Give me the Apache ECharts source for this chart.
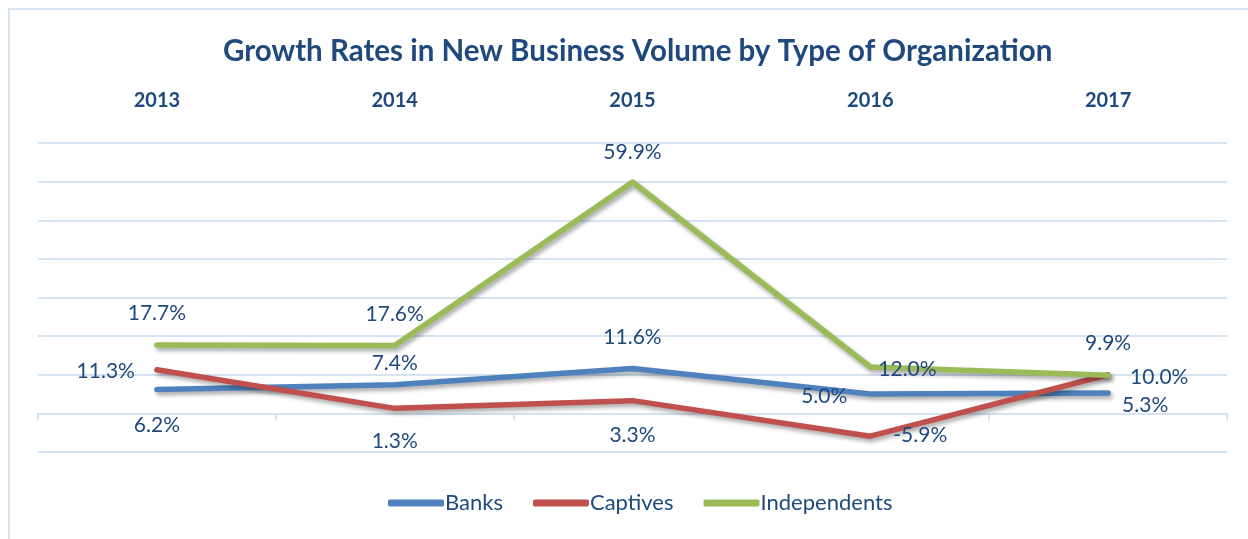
<!DOCTYPE html>
<html>
<head>
<meta charset="utf-8">
<script src="https://cdn.jsdelivr.net/npm/echarts@6/dist/echarts.min.js"></script>
<style>
  html, body { margin: 0; padding: 0; background: #fff; }
  #chart { width: 1248px; height: 539px; }
</style>
</head>
<body>
<div id="chart"></div>
<script>
const years = ['2013', '2014', '2015', '2016', '2017'];
const banks = [6.2, 7.4, 11.6, 5.0, 5.3];
const captives = [11.3, 1.3, 3.3, -5.9, 10.0];
const independents = [17.7, 17.6, 59.9, 12.0, 9.9];

// label placement per point (style only)
const banksPos = [['bottom', [0, 20]], ['top', [0, -6]], ['top', [0, -16]], ['left', [-18, 2]], ['right', [9, 12]]];
const captivesPos = [['left', [-17, 2]], ['bottom', [0, 17]], ['bottom', [0, 19]], ['right', [18, -1]], ['right', [17, 2]]];
const independentsPos = [['top', [0, -16]], ['top', [0, -16]], ['top', [0, -14]], ['right', [3, 2]], ['top', [0, -16]]];

const navy = '#1F497D';
const font = 'Lato, "Open Sans", sans-serif';

function build(values, pos) {
    return values.map((v, i) => ({
        value: v,
        label: { position: pos[i][0], offset: pos[i][1] }
    }));
}

function line(name, values, pos, color) {
    return {
        type: 'line',
        name: name,
        data: build(values, pos),
        symbol: 'circle',
        symbolSize: 0,
        showSymbol: true,
        lineStyle: {
            color: color,
            width: 5.5,
            cap: 'round',
            join: 'round',
            shadowColor: 'rgba(0,0,0,0.35)',
            shadowBlur: 4,
            shadowOffsetX: 2,
            shadowOffsetY: 3
        },
        itemStyle: { color: color },
        label: {
            show: true,
            color: navy,
            fontSize: 21,
            fontFamily: font,
            formatter: p => p.value.toFixed(1) + '%'
        },
        z: 3
    };
}

echarts.init(document.getElementById('chart'))
    .setOption({
        animation: false,
        textStyle: { fontFamily: font },
        graphic: [{
            type: 'rect',
            shape: { x: 9, y: 9, width: 1260, height: 560 },
            style: { fill: 'none', stroke: '#D6E3F3', lineWidth: 2 },
            z: -1
        }],
        title: {
            text: 'Growth Rates in New Business Volume by Type of Organization',
            left: 218,
            top: 31,
            textStyle: { color: navy, fontSize: 29.5, fontWeight: 'bold', fontFamily: font }
        },
        legend: {
            data: ['Banks', 'Captives', 'Independents'],
            bottom: 20,
            left: 383,
            itemWidth: 56,
            itemHeight: 7,
            itemGap: 30,
            icon: 'roundRect',
            textStyle: { color: navy, fontSize: 22, fontFamily: font, padding: [0, 0, 0, -4] }
        },
        grid: { left: 38, right: 21, top: 143, bottom: 87 },
        xAxis: [{
            type: 'category',
            data: years,
            position: 'bottom',
            axisLine: { onZero: true, lineStyle: { color: '#D6E3F3', width: 2 } },
            axisTick: { show: true, length: 7, lineStyle: { color: '#D6E3F3', width: 2 } },
            axisLabel: { show: false }
        }, {
            type: 'category',
            data: years,
            position: 'top',
            axisLine: { show: false },
            axisTick: { show: false },
            axisLabel: { color: navy, fontSize: 20, fontWeight: 'bold', margin: 32 }
        }],
        yAxis: {
            type: 'value',
            min: -10,
            max: 70,
            interval: 10,
            axisLabel: { show: false },
            axisLine: { show: false },
            axisTick: { show: false },
            splitLine: { lineStyle: { color: '#D6E3F3', width: 2 } }
        },
        series: [
            line('Banks', banks, banksPos, '#4F81BD'),
            line('Captives', captives, captivesPos, '#C0504D'),
            line('Independents', independents, independentsPos, '#9BBB59')
        ]
    });
</script>
</body>
</html>
